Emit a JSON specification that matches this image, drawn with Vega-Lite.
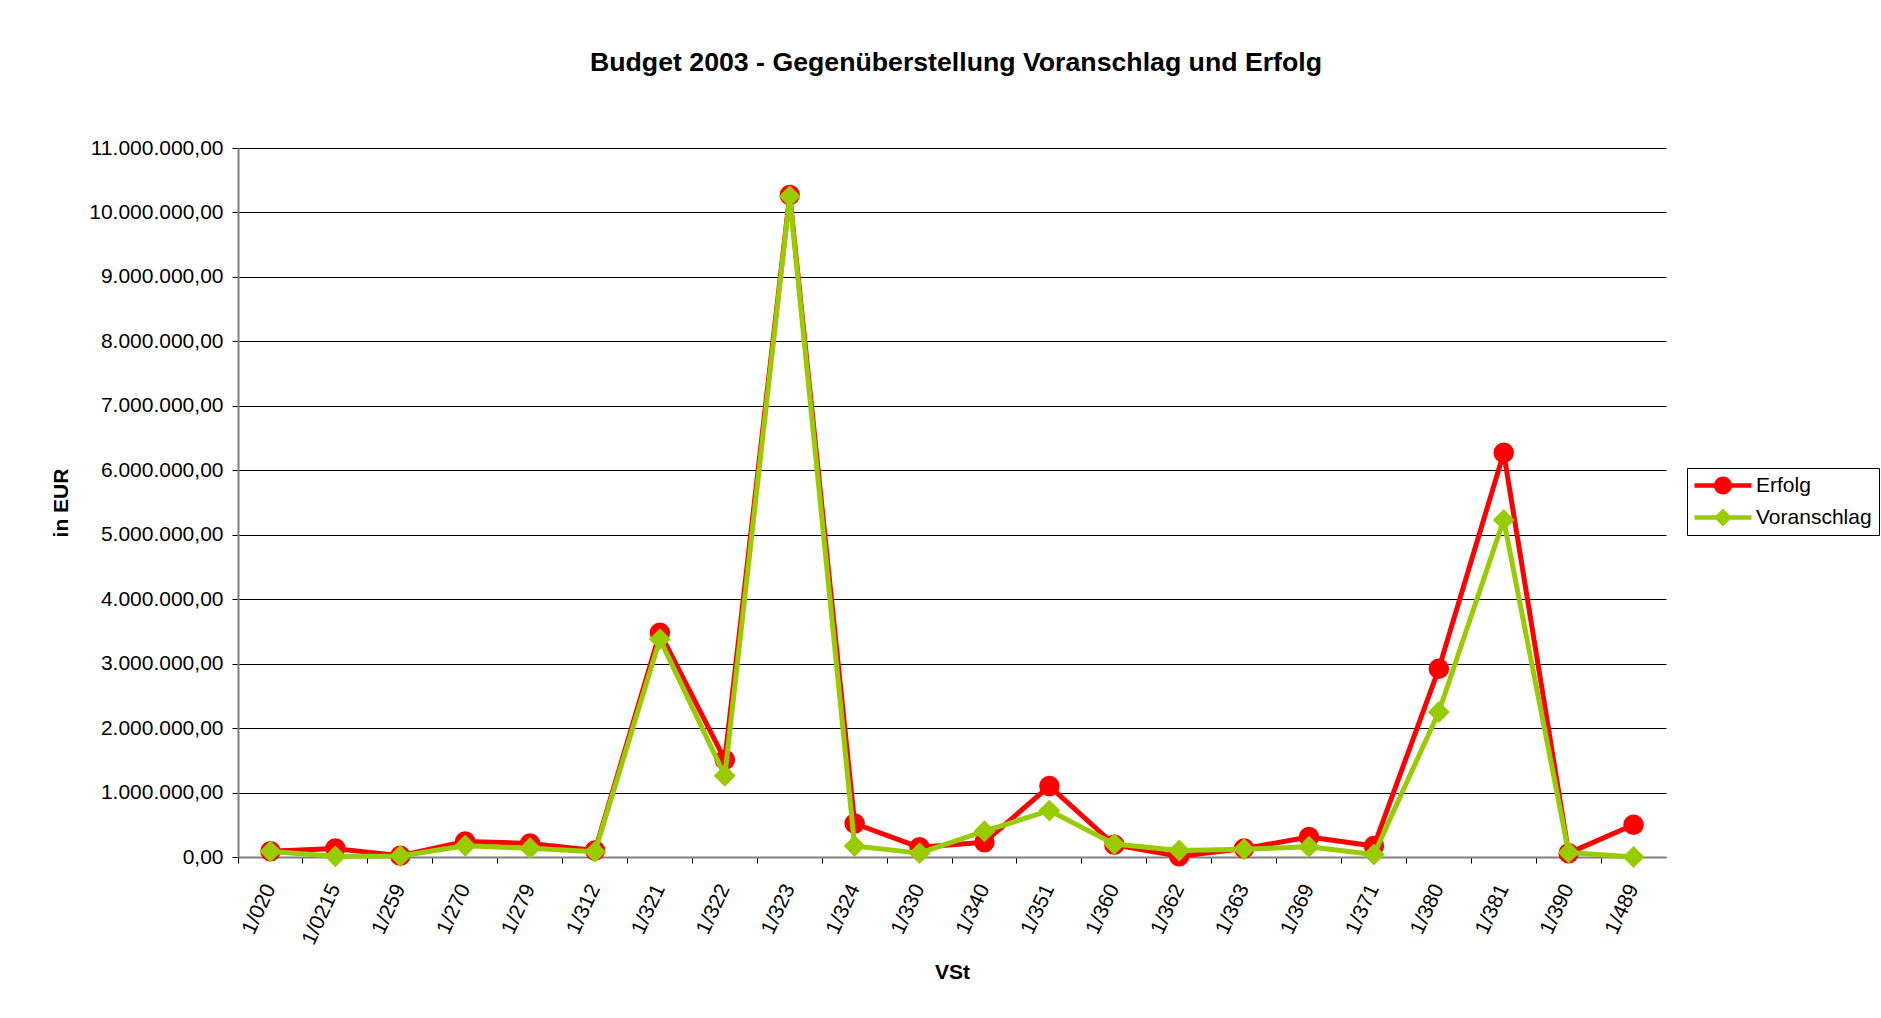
{
  "$schema": "https://vega.github.io/schema/vega-lite/v6.json",
  "autosize": {"type": "none"},
  "padding": {"left": 238, "top": 148, "right": 215, "bottom": 161},
  "width": 1428,
  "height": 709,
  "background": "white",
  "title": {
    "text": "Budget 2003 - Gegenüberstellung Voranschlag und Erfolg",
    "font": "Liberation Sans",
    "fontSize": 26.7,
    "fontWeight": "bold",
    "color": "black",
    "anchor": "middle",
    "offset": 60,
    "dx": 4
  },
  "data": {
    "values": [
      {"VSt": "1/020", "Serie": "Erfolg", "Betrag": 90000},
      {"VSt": "1/0215", "Serie": "Erfolg", "Betrag": 130000},
      {"VSt": "1/259", "Serie": "Erfolg", "Betrag": 20000},
      {"VSt": "1/270", "Serie": "Erfolg", "Betrag": 240000},
      {"VSt": "1/279", "Serie": "Erfolg", "Betrag": 210000},
      {"VSt": "1/312", "Serie": "Erfolg", "Betrag": 100000},
      {"VSt": "1/321", "Serie": "Erfolg", "Betrag": 3480000},
      {"VSt": "1/322", "Serie": "Erfolg", "Betrag": 1510000},
      {"VSt": "1/323", "Serie": "Erfolg", "Betrag": 10270000},
      {"VSt": "1/324", "Serie": "Erfolg", "Betrag": 520000},
      {"VSt": "1/330", "Serie": "Erfolg", "Betrag": 150000},
      {"VSt": "1/340", "Serie": "Erfolg", "Betrag": 230000},
      {"VSt": "1/351", "Serie": "Erfolg", "Betrag": 1100000},
      {"VSt": "1/360", "Serie": "Erfolg", "Betrag": 190000},
      {"VSt": "1/362", "Serie": "Erfolg", "Betrag": 10000},
      {"VSt": "1/363", "Serie": "Erfolg", "Betrag": 130000},
      {"VSt": "1/369", "Serie": "Erfolg", "Betrag": 310000},
      {"VSt": "1/371", "Serie": "Erfolg", "Betrag": 170000},
      {"VSt": "1/380", "Serie": "Erfolg", "Betrag": 2920000},
      {"VSt": "1/381", "Serie": "Erfolg", "Betrag": 6270000},
      {"VSt": "1/390", "Serie": "Erfolg", "Betrag": 60000},
      {"VSt": "1/489", "Serie": "Erfolg", "Betrag": 500000},
      {"VSt": "1/020", "Serie": "Voranschlag", "Betrag": 85000},
      {"VSt": "1/0215", "Serie": "Voranschlag", "Betrag": 10000},
      {"VSt": "1/259", "Serie": "Voranschlag", "Betrag": 15000},
      {"VSt": "1/270", "Serie": "Voranschlag", "Betrag": 175000},
      {"VSt": "1/279", "Serie": "Voranschlag", "Betrag": 135000},
      {"VSt": "1/312", "Serie": "Voranschlag", "Betrag": 80000},
      {"VSt": "1/321", "Serie": "Voranschlag", "Betrag": 3380000},
      {"VSt": "1/322", "Serie": "Voranschlag", "Betrag": 1260000},
      {"VSt": "1/323", "Serie": "Voranschlag", "Betrag": 10250000},
      {"VSt": "1/324", "Serie": "Voranschlag", "Betrag": 170000},
      {"VSt": "1/330", "Serie": "Voranschlag", "Betrag": 60000},
      {"VSt": "1/340", "Serie": "Voranschlag", "Betrag": 400000},
      {"VSt": "1/351", "Serie": "Voranschlag", "Betrag": 720000},
      {"VSt": "1/360", "Serie": "Voranschlag", "Betrag": 200000},
      {"VSt": "1/362", "Serie": "Voranschlag", "Betrag": 100000},
      {"VSt": "1/363", "Serie": "Voranschlag", "Betrag": 120000},
      {"VSt": "1/369", "Serie": "Voranschlag", "Betrag": 160000},
      {"VSt": "1/371", "Serie": "Voranschlag", "Betrag": 40000},
      {"VSt": "1/380", "Serie": "Voranschlag", "Betrag": 2250000},
      {"VSt": "1/381", "Serie": "Voranschlag", "Betrag": 5230000},
      {"VSt": "1/390", "Serie": "Voranschlag", "Betrag": 70000},
      {"VSt": "1/489", "Serie": "Voranschlag", "Betrag": 0}
    ]
  },
  "layer": [
    {
      "transform": [{"filter": {"field": "Serie", "equal": "Erfolg"}}],
      "mark": {"type": "line", "strokeWidth": 5, "strokeJoin": "round", "strokeCap": "round"},
      "encoding": {
        "x": {
          "field": "VSt", "type": "nominal", "sort": null,
          "scale": {"type": "band", "paddingInner": 0, "paddingOuter": 0},
          "axis": {
            "orient": "bottom", "labels": false, "title": null, "grid": false,
            "ticks": true, "tickSize": 6, "tickColor": "black", "tickWidth": 1,
            "bandPosition": 0, "domain": true, "domainColor": "#808080", "domainWidth": 2
          }
        },
        "y": {
          "field": "Betrag", "type": "quantitative",
          "scale": {"domain": [0, 11000000], "nice": false, "zero": true},
          "axis": {
            "title": "in EUR",
            "values": [0, 1000000, 2000000, 3000000, 4000000, 5000000, 6000000, 7000000, 8000000, 9000000, 10000000, 11000000],
            "format": ",.2f",
            "labelFont": "Liberation Sans", "labelFontSize": 21, "labelColor": "black",
            "labelPadding": 9, "tickSize": 6, "tickColor": "black", "tickWidth": 1,
            "grid": true, "gridColor": "black", "gridWidth": 1, "gridOpacity": 1,
            "domain": true, "domainColor": "#808080", "domainWidth": 2,
            "titleFont": "Liberation Sans", "titleFontSize": 21, "titleFontWeight": "bold", "titleColor": "black",
            "titleAngle": -90, "titleBaseline": "alphabetic", "titleX": -171
          }
        },
        "color": {
          "field": "Serie", "type": "nominal",
          "scale": {"domain": ["Erfolg", "Voranschlag"], "range": ["#FF0000", "#99CC00"]},
          "legend": {
            "title": null,
            "orient": "none",
            "legendX": 1449,
            "legendY": 320,
            "direction": "vertical",
            "strokeColor": "black",
            "fillColor": "white",
            "padding": 7,
            "symbolSize": 400,
            "labelOffset": 41,
            "rowPadding": 10,
            "labelFont": "Liberation Sans",
            "labelFontSize": 21,
            "labelColor": "black",
            "labelLimit": 400,
            "encode": {
              "symbols": {
                "update": {
                  "shape": {"signal": "datum.value === 'Erfolg' ? 'M-1,-0.225L4.7,-0.225L4.7,0.225L-1,0.225Z M1.85,-0.9C2.347,-0.9 2.75,-0.497 2.75,0C2.75,0.497 2.347,0.9 1.85,0.9C1.353,0.9 0.95,0.497 0.95,0C0.95,-0.497 1.353,-0.9 1.85,-0.9Z' : 'M-1,-0.225L4.7,-0.225L4.7,0.225L-1,0.225Z M1.85,-0.9L2.75,0L1.85,0.9L0.95,0Z'"},
                  "fill": {"signal": "datum.value === 'Erfolg' ? '#FF0000' : '#99CC00'"},
                  "stroke": {"value": "transparent"},
                  "strokeWidth": {"value": 0},
                  "opacity": {"value": 1}
                }
              }
            }
          }
        }
      }
    },
    {
      "transform": [{"filter": {"field": "Serie", "equal": "Erfolg"}}],
      "mark": {"type": "point", "filled": true, "shape": "circle", "size": 420, "opacity": 1},
      "encoding": {
        "x": {"field": "VSt", "type": "nominal", "sort": null, "axis": null},
        "y": {"field": "Betrag", "type": "quantitative"},
        "color": {"field": "Serie", "type": "nominal"}
      }
    },
    {
      "transform": [{"filter": {"field": "Serie", "equal": "Voranschlag"}}],
      "mark": {"type": "line", "strokeWidth": 5, "strokeJoin": "round", "strokeCap": "round"},
      "encoding": {
        "x": {"field": "VSt", "type": "nominal", "sort": null, "axis": null},
        "y": {"field": "Betrag", "type": "quantitative"},
        "color": {"field": "Serie", "type": "nominal"}
      }
    },
    {
      "transform": [{"filter": {"field": "Serie", "equal": "Voranschlag"}}],
      "mark": {"type": "point", "filled": true, "shape": "M0,-1L1,0L0,1L-1,0Z", "size": 480, "opacity": 1},
      "encoding": {
        "x": {
          "field": "VSt", "type": "nominal", "sort": null,
          "axis": {
            "orient": "bottom", "title": "VSt", "grid": false,
            "ticks": false, "tickSize": 0, "domain": false,
            "labelAngle": -65, "labelPadding": 28, "labelOverlap": false,
            "labelFont": "Liberation Sans", "labelFontSize": 21, "labelColor": "black",
            "titleFont": "Liberation Sans", "titleFontSize": 21, "titleFontWeight": "bold", "titleColor": "black",
            "titleBaseline": "alphabetic", "titleY": 121
          }
        },
        "y": {"field": "Betrag", "type": "quantitative"},
        "color": {"field": "Serie", "type": "nominal"}
      }
    }
  ],
  "resolve": {"axis": {"x": "independent"}},
  "config": {
    "view": {"stroke": null},
    "font": "Liberation Sans",
    "locale": {
      "number": {"decimal": ",", "thousands": ".", "grouping": [3], "currency": ["", " €"]}
    }
  }
}
